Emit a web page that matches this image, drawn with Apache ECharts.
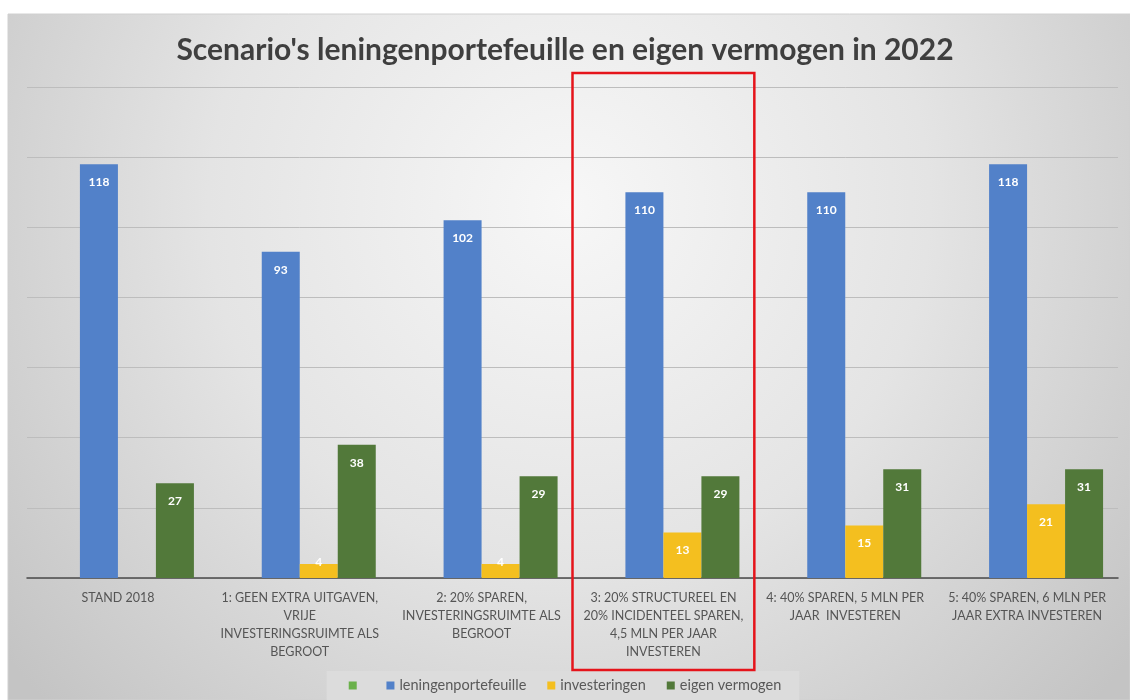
<!DOCTYPE html>
<html>
<head>
<meta charset="utf-8">
<script src="https://cdn.jsdelivr.net/npm/echarts@6/dist/echarts.min.js"></script>
<style>
  html, body { margin: 0; padding: 0; background: #ffffff; }
  #chart { width: 1130px; height: 700px; }
</style>
</head>
<body>
<div id="chart"></div>
<script>
// ---- data ----
const titleText = "Scenario's leningenportefeuille en eigen vermogen in 2022";
const categories = [
  "STAND 2018",
  "1: GEEN EXTRA UITGAVEN,\nVRIJE\nINVESTERINGSRUIMTE ALS\nBEGROOT",
  "2: 20% SPAREN,\nINVESTERINGSRUIMTE ALS\nBEGROOT",
  "3: 20% STRUCTUREEL EN\n20% INCIDENTEEL SPAREN,\n4,5 MLN PER JAAR\nINVESTEREN",
  "4: 40% SPAREN, 5 MLN PER\nJAAR  INVESTEREN",
  "5: 40% SPAREN, 6 MLN PER\nJAAR EXTRA INVESTEREN"
];
const seriesNames = [" ", "leningenportefeuille", "investeringen", "eigen vermogen"];
const leeg = [null, null, null, null, null, null];
const leningenportefeuille = [118, 93, 102, 110, 110, 118];
const investeringen = [null, 4, 4, 13, 15, 21];
const eigenVermogen = [27, 38, 29, 29, 31, 31];
const yMin = 0, yMax = 140, yInterval = 20;
const highlightedCategory = 3;

// ---- style ----
const colors = ['#6ab14a', '#5281c9', '#f4bf1f', '#52793a'];
const FONT = 'Lato, "Open Sans", sans-serif';

function buildData(values) {
  return values.map(function (v) {
    if (v !== null && v < 8) {
      return { value: v, label: { position: 'top', distance: -4 } };
    }
    return v;
  });
}

function barSeries(name, values, color) {
  return {
    name: name,
    type: 'bar',
    data: buildData(values),
    barWidth: 38,
    barGap: '0%',
    itemStyle: { color: color },
    label: {
      show: true,
      position: 'insideTop',
      distance: 12,
      color: '#ffffff',
      fontFamily: FONT,
      fontWeight: 'bold',
      fontSize: 12
    }
  };
}

const chart = echarts.init(document.getElementById('chart'), null, { renderer: 'canvas' });

const option = {
  animation: false,
  color: colors,
  graphic: [
    {
      type: 'rect',
      z: -10,
      silent: true,
      shape: { x: 8, y: 14, width: 1122, height: 686 },
      style: {
        fill: {
          type: 'radial', x: 0.5, y: 0.28, r: 1.05,
          colorStops: [
            { offset: 0, color: '#f7f7f7' },
            { offset: 0.5, color: '#e4e4e4' },
            { offset: 1, color: '#c4c4c4' }
          ]
        },
        stroke: '#d0d0d0',
        lineWidth: 1
      }
    }
  ],
  title: {
    text: titleText,
    left: 'center',
    top: 30,
    textStyle: {
      fontFamily: FONT,
      fontSize: 30,
      fontWeight: 'bold',
      color: '#3f3f3f'
    }
  },
  legend: {
    data: seriesNames,
    bottom: 0,
    left: 'center',
    itemWidth: 8,
    itemHeight: 8,
    itemGap: 21,
    icon: 'rect',
    backgroundColor: '#dcdcdc',
    padding: [7, 18, 7, 22],
    textStyle: { fontFamily: FONT, fontSize: 14.5, color: '#595959' }
  },
  grid: { left: 27, right: 12, top: 87, bottom: 122, containLabel: false },
  xAxis: {
    type: 'category',
    data: categories,
    axisTick: { show: false },
    axisLine: { lineStyle: { color: '#4a4a4a', width: 1.5 } },
    axisLabel: {
      interval: 0,
      margin: 11,
      fontFamily: FONT,
      fontSize: 12.5,
      lineHeight: 18,
      color: '#555555',
      align: 'center'
    }
  },
  yAxis: {
    type: 'value',
    min: yMin,
    max: yMax,
    interval: yInterval,
    axisLabel: { show: false },
    axisLine: { show: false },
    axisTick: { show: false },
    splitLine: { lineStyle: { color: '#bdbdbd', width: 1 } }
  },
  series: [
    barSeries(seriesNames[0], leeg, colors[0]),
    barSeries(seriesNames[1], leningenportefeuille, colors[1]),
    barSeries(seriesNames[2], investeringen, colors[2]),
    barSeries(seriesNames[3], eigenVermogen, colors[3])
  ]
};

chart.setOption(option);

// red highlight box around one category band
const cx = chart.convertToPixel({ xAxisIndex: 0 }, highlightedCategory);
const cx2 = chart.convertToPixel({ xAxisIndex: 0 }, highlightedCategory + 1);
const half = (cx2 - cx) / 2;
const yTop = chart.convertToPixel({ yAxisIndex: 0 }, yMax) - 14;
chart.setOption({
  graphic: [
    option.graphic[0],
    {
      type: 'rect',
      z: 100,
      silent: true,
      shape: { x: cx - half, y: yTop, width: 2 * half, height: 670 - yTop },
      style: { fill: 'none', stroke: '#e5141b', lineWidth: 2.5 }
    }
  ]
});
</script>
</body>
</html>
